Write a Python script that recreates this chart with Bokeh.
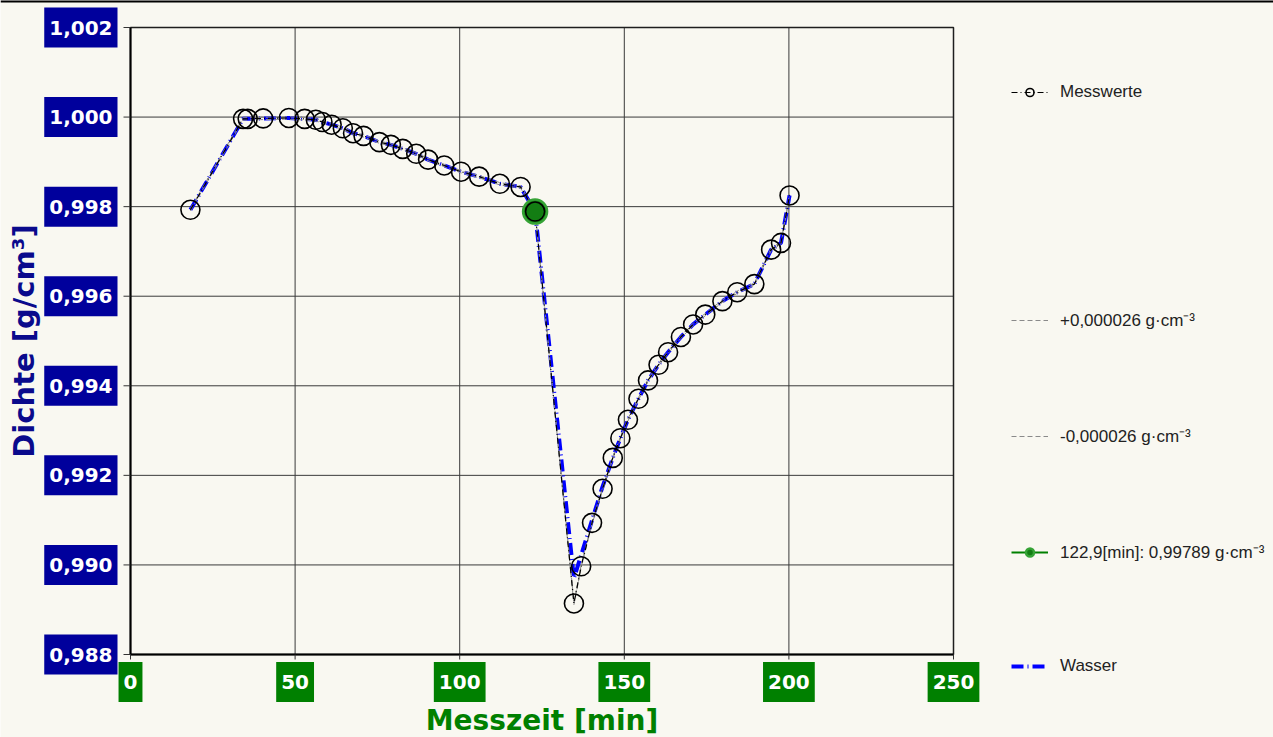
import math
from bokeh.plotting import figure
from bokeh.models import Label, Legend, LegendItem, Range1d, Span
from bokeh.embed import file_html
from bokeh.resources import INLINE

# ---------------- data ----------------
time_min = [18.2, 34.2, 35.6, 40.3, 48.1, 52.9, 56.3, 58.3, 61.1, 64.5, 67.6, 70.8,
            75.6, 79.1, 82.7, 86.8, 90.4, 95.3, 100.4, 105.9, 112.2, 118.5, 122.9,
            134.7, 136.9, 140.2, 143.4, 146.5, 148.8, 151.1, 154.3, 157.2, 160.4,
            163.3, 167.2, 170.9, 174.6, 179.8, 184.3, 189.5, 194.6, 197.6, 200.2]
density = [0.99793, 0.99996, 0.99996, 0.99997, 0.99998, 0.99996, 0.99994, 0.99989,
           0.99983, 0.99975, 0.99964, 0.99958, 0.99944, 0.99938, 0.99929, 0.99918,
           0.99905, 0.99892, 0.99878, 0.99867, 0.99851, 0.99844, 0.99789,
           0.98914, 0.98997, 0.99094, 0.99170, 0.99239, 0.99283, 0.99324, 0.99371,
           0.99412, 0.99447, 0.99475, 0.99509, 0.99537, 0.99559, 0.99589, 0.99609,
           0.99627, 0.99704, 0.99719, 0.99825]
wasser_density = [0.99793, 0.99996, 0.99996, 0.99997, 0.99998, 0.99996, 0.99994, 0.99989,
                  0.99983, 0.99975, 0.99964, 0.99958, 0.99944, 0.99938, 0.99929, 0.99918,
                  0.99905, 0.99892, 0.99878, 0.99867, 0.99851, 0.99844, 0.99789,
                  0.98970, 0.99022, 0.99100, 0.99175, 0.99239, 0.99283, 0.99324, 0.99371,
                  0.99412, 0.99447, 0.99475, 0.99509, 0.99537, 0.99559, 0.99589, 0.99609,
                  0.99627, 0.99704, 0.99719, 0.99825]
tolerance = 0.000026
marker_time = [122.9]
marker_density = [0.99789]

x_ticks = [0, 50, 100, 150, 200, 250]
x_tick_labels = ["0", "50", "100", "150", "200", "250"]
y_ticks = [0.988, 0.990, 0.992, 0.994, 0.996, 0.998, 1.000, 1.002]
y_tick_labels = ["0,988", "0,990", "0,992", "0,994", "0,996", "0,998", "1,000", "1,002"]

legend_labels = ["Messwerte", "+0,000026 g·cm⁻³", "-0,000026 g·cm⁻³",
                 "122,9[min]: 0,99789 g·cm⁻³", "Wasser"]
x_title = "Messzeit [min]"
y_title = "Dichte [g/cm³]"

upper = [d + tolerance for d in density]
lower = [d - tolerance for d in density]

# ---------------- layout (pixels) ----------------
W, H = 1273, 737
PX_L, PX_R, PX_T, PX_B = 130, 953, 27, 654
x_min, x_max = x_ticks[0], x_ticks[-1]
y_min, y_max = y_ticks[0], y_ticks[-1]
xs = (x_max - x_min) / (PX_R - PX_L)
ys = (y_max - y_min) / (PX_B - PX_T)
x_range = Range1d(x_min - PX_L * xs, x_max + (W - PX_R) * xs)
y_range = Range1d(y_min - (H - PX_B) * ys, y_max + PX_T * ys)

BG = "#F9F8F1"
BLUE_BOX = "#00009C"
GREEN_BOX = "#008000"
BOLD_FONT = "DejaVu Sans"
BOX_PAD = (5, 5, 13, 13)   # left, right, top, bottom

p = figure(width=W, height=H, output_backend="svg", toolbar_location=None,
           x_range=x_range, y_range=y_range, x_axis_location=None, y_axis_location=None,
           min_border=0, background_fill_color=BG, border_fill_color=BG)
p.outline_line_color = None
p.grid.visible = False

# top black bar of the window frame
p.add_layout(Span(location=y_range.end, dimension="width", line_color="black", line_width=4))

# ---------------- plot area, grid, axes, ticks ----------------
nx, ny = len(x_ticks), len(y_ticks)
p.segment(x0=x_ticks[1:-1], y0=[y_min] * (nx - 2), x1=x_ticks[1:-1], y1=[y_max] * (nx - 2),
          line_color="#3a3a3a", line_width=1)
p.segment(x0=[x_min] * (ny - 2), y0=y_ticks[1:-1], x1=[x_max] * (ny - 2), y1=y_ticks[1:-1],
          line_color="#3a3a3a", line_width=1)
p.quad(left=[x_min], right=[x_max], bottom=[y_min], top=[y_max], fill_color=None,
       line_color="#1e1e1e", line_width=1.5)
p.segment(x0=[x_min, x_min], y0=[y_min, y_min], x1=[x_min, x_max], y1=[y_max, y_min],
          line_color="black", line_width=2)
p.ray(x=[x_min] * ny, y=y_ticks, length=7, angle=math.pi, length_units="screen",
      line_color="#333333", line_width=1)
p.ray(x=x_ticks, y=[y_min] * nx, length=5, angle=-math.pi / 2, length_units="screen",
      line_color="#333333", line_width=1)

# ---------------- series ----------------
r_wasser = p.line(time_min, wasser_density, line_color="#0000FF", line_width=4,
                  line_dash="12 4 1 4")
r_plus = p.line(time_min, upper, line_color="#8a8a8a", line_width=1, line_dash="5 3")
r_minus = p.line(time_min, lower, line_color="#8a8a8a", line_width=1, line_dash="5 3")
r_mess_line = p.line(time_min, density, line_color="black", line_width=1.2,
                     line_dash="6 3 1 3")
r_green = p.scatter(marker_time, marker_density, size=24, fill_color="#137d13",
                    line_color="#36a336", line_width=2.5)
r_mess_pts = p.scatter(time_min, density, size=19, fill_color=None, line_color="black",
                       line_width=1.6)
nan = float("nan")
r_green_line = p.line([nan], [nan], line_color="#008000", line_width=2)
r_blank = p.line([nan], [nan], line_alpha=0)

# ---------------- tick labels (white on coloured boxes) ----------------
for v, s in zip(y_ticks, y_tick_labels):
    p.add_layout(Label(x=x_min, y=v, x_offset=-13, text=s, text_align="right",
                       text_baseline="middle", text_color="white", text_font=BOLD_FONT,
                       text_font_style="bold", text_font_size="20px",
                       background_fill_color=BLUE_BOX, padding=BOX_PAD))
for v, s in zip(x_ticks, x_tick_labels):
    p.add_layout(Label(x=v, y=y_min, y_offset=-27.5, text=s, text_align="center",
                       text_baseline="middle", text_color="white", text_font=BOLD_FONT,
                       text_font_style="bold", text_font_size="20px",
                       background_fill_color=GREEN_BOX, padding=BOX_PAD))

# ---------------- axis titles ----------------
p.add_layout(Label(x=x_min, y=(y_min + y_max) / 2, x_offset=-107, text=y_title,
                   angle=math.pi / 2, text_align="center", text_baseline="middle",
                   text_color="#0A0A8C", text_font=BOLD_FONT, text_font_style="bold",
                   text_font_size="29px"))
p.add_layout(Label(x=(x_min + x_max) / 2, y=y_min, y_offset=-66, text=x_title,
                   text_align="center", text_baseline="middle", text_color="#008000",
                   text_font=BOLD_FONT, text_font_style="bold", text_font_size="28px"))

# ---------------- legend ----------------
items = [
    LegendItem(label=legend_labels[0], renderers=[r_mess_line, r_mess_pts]),
    LegendItem(label=" ", renderers=[r_blank]),
    LegendItem(label=legend_labels[1], renderers=[r_plus]),
    LegendItem(label=legend_labels[2], renderers=[r_minus]),
    LegendItem(label=legend_labels[3], renderers=[r_green_line, r_green]),
    LegendItem(label=legend_labels[4], renderers=[r_wasser]),
]
legend = Legend(items=items, location=(1011, 61), orientation="vertical",
                glyph_width=37, glyph_height=20, label_height=20, spacing=93,
                label_standoff=12, padding=10, margin=0,
                background_fill_alpha=0, border_line_color=None,
                label_text_font="Liberation Sans", label_text_font_size="17px",
                label_text_color="#222222")
p.add_layout(legend)

open("out.html", "w").write(file_html(p, INLINE))
